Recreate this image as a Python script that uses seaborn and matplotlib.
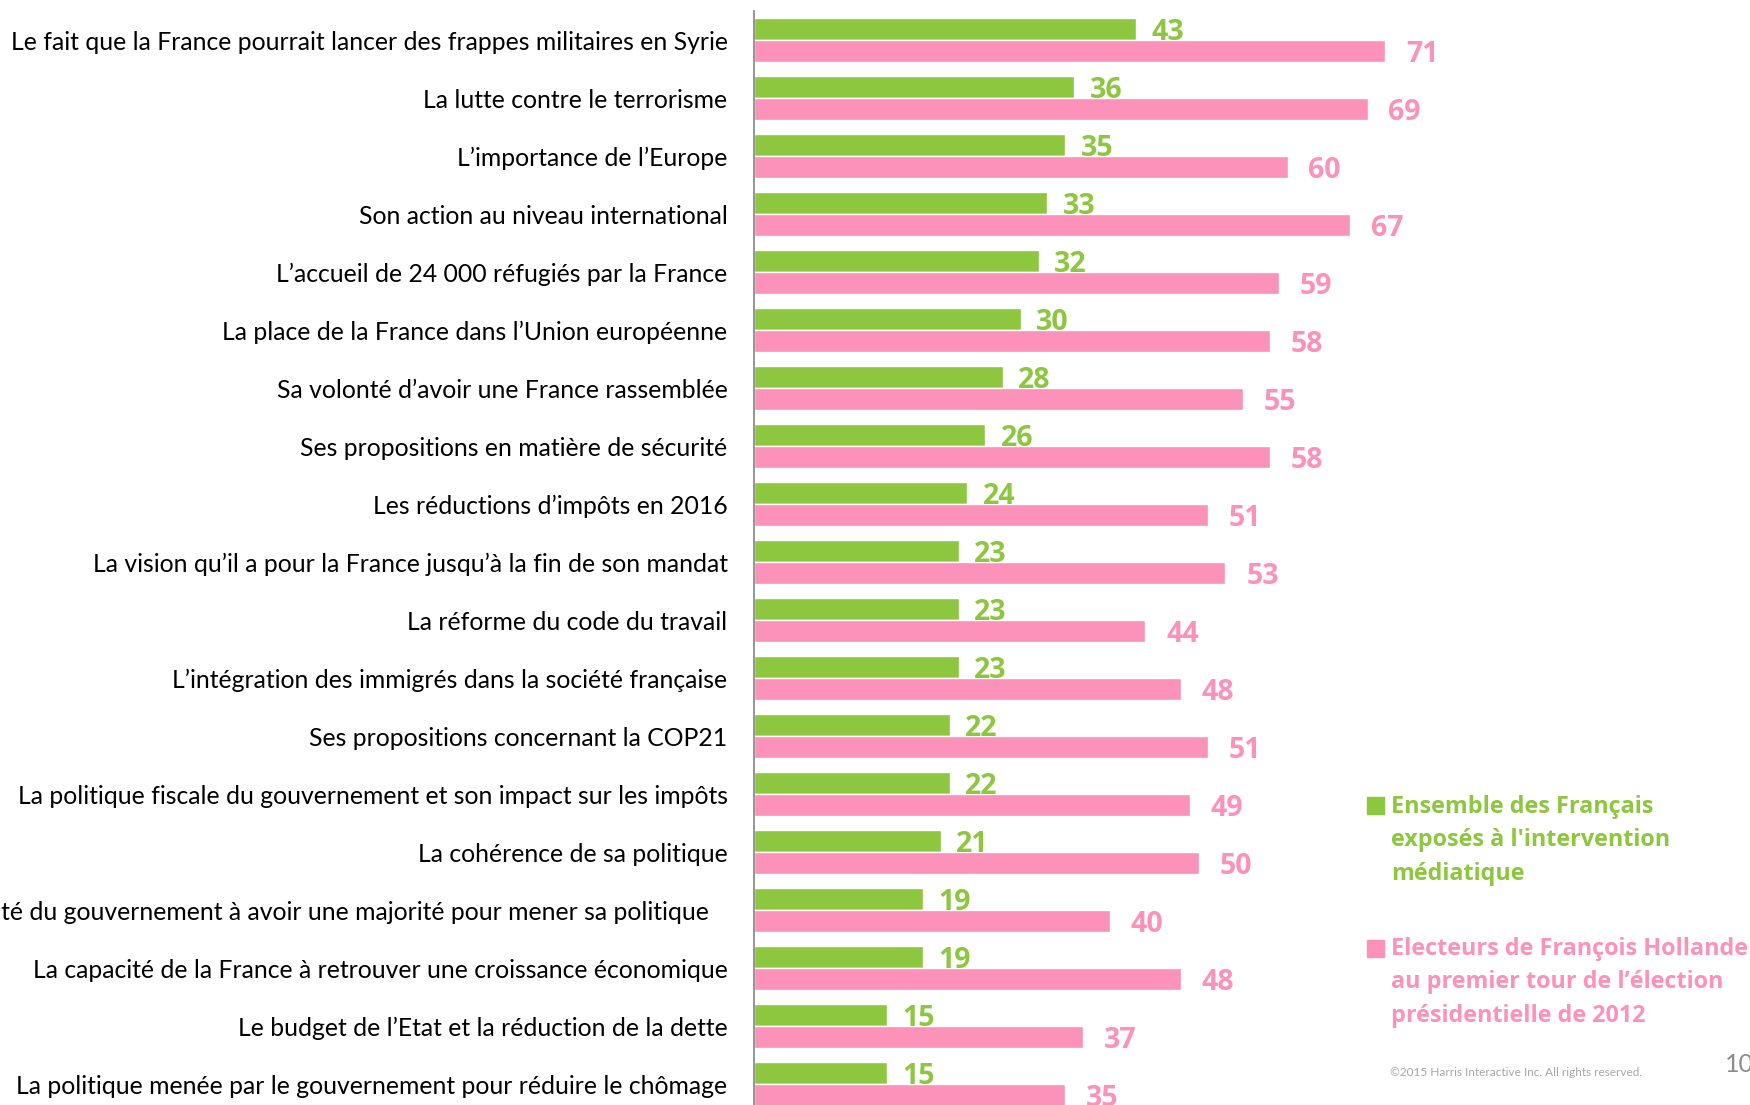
import pandas as pd
import matplotlib.pyplot as plt
import seaborn as sns
from matplotlib.patches import Rectangle

# données
items = [
    "Le fait que la France pourrait lancer des frappes militaires en Syrie",
    "La lutte contre le terrorisme",
    "L’importance de l’Europe",
    "Son action au niveau international",
    "L’accueil de 24 000 réfugiés par la France",
    "La place de la France dans l’Union européenne",
    "Sa volonté d’avoir une France rassemblée",
    "Ses propositions en matière de sécurité",
    "Les réductions d’impôts en 2016",
    "La vision qu’il a pour la France jusqu’à la fin de son mandat",
    "La réforme du code du travail",
    "L’intégration des immigrés dans la société française",
    "Ses propositions concernant la COP21",
    "La politique fiscale du gouvernement et son impact sur les impôts",
    "La cohérence de sa politique",
    "La capacité du gouvernement à avoir une majorité pour mener sa politique   ",
    "La capacité de la France à retrouver une croissance économique",
    "Le budget de l’Etat et la réduction de la dette",
    "La politique menée par le gouvernement pour réduire le chômage",
]
ensemble = [43, 36, 35, 33, 32, 30, 28, 26, 24, 23, 23, 23, 22, 22, 21, 19, 19, 15, 15]
hollande = [71, 69, 60, 67, 59, 58, 55, 58, 51, 53, 44, 48, 51, 49, 50, 40, 48, 37, 35]
series = ["Ensemble des Français exposés à l'intervention médiatique",
          "Electeurs de François Hollande au premier tour de l’élection présidentielle de 2012"]

green = "#8DC63F"
pink = "#FC91B9"

df = pd.DataFrame({
    "item": items * 2,
    "value": ensemble + hollande,
    "serie": [series[0]] * len(items) + [series[1]] * len(items),
})

sns.set_style("white")
plt.rcParams['font.family'] = ['Lato', 'DejaVu Sans']
bold_font = ['Open Sans', 'DejaVu Sans']

fig = plt.figure(figsize=(17.5, 11.05), dpi=100)
ax = fig.add_axes([754 / 1750, -8 / 1105, 996 / 1750, 1102 / 1105])

sns.barplot(data=df, x="value", y="item", hue="serie", orient="h",
            palette=[green, pink], saturation=1, width=0.76, edgecolor="white", linewidth=1,
            legend=False, ax=ax)

ax.set_xlim(0, 112)
ax.set_ylim(len(items) - 0.5, -0.5)
ax.set_xlabel("")
ax.set_ylabel("")
ax.set_xticks([])

# étiquettes des valeurs
for cont, col, pad in [(ax.containers[0], green, 11), (ax.containers[1], pink, 15)]:
    labels = ax.bar_label(cont, color=col, fontsize=20.5, fontweight="bold",
                          family=bold_font, padding=pad)
    for t in labels:
        t.set_verticalalignment("center_baseline")

# axe vertical
for s in ["top", "right", "bottom"]:
    ax.spines[s].set_visible(False)
ax.spines["left"].set_color("#8C8C8C")
ax.spines["left"].set_linewidth(1.3)
ax.tick_params(axis="y", which="major", length=0, pad=19, labelsize=17.8, labelcolor="black")
ax.set_yticks([i - 0.5 for i in range(len(items) + 1)], minor=True)
ax.tick_params(axis="y", which="minor", length=6, width=1.3, color="#8C8C8C", direction="out")

# légende
fig.add_artist(Rectangle((1367 / 1750, 1 - 814 / 1105), 17 / 1750, 17 / 1105,
                         transform=fig.transFigure, color=green))
fig.text(1391 / 1750, 1 - 795 / 1105, "Ensemble des Français\nexposés à l'intervention\nmédiatique",
         color=green, fontsize=16.8, fontweight="bold", family=bold_font,
         va="top", ha="left", linespacing=1.52)
fig.add_artist(Rectangle((1367 / 1750, 1 - 957 / 1105), 17 / 1750, 17 / 1105,
                         transform=fig.transFigure, color=pink))
fig.text(1391 / 1750, 1 - 937 / 1105, "Electeurs de François Hollande\nau premier tour de l’élection\nprésidentielle de 2012",
         color=pink, fontsize=16.8, fontweight="bold", family=bold_font,
         va="top", ha="left", linespacing=1.52)

fig.text(1390 / 1750, 1 - 1072 / 1105, "©2015 Harris Interactive Inc. All rights reserved.",
         color="#A6A6A6", fontsize=8.5, va="center", ha="left")
fig.text(1725 / 1750, 1 - 1064 / 1105, "10", color="#8C8C8C", fontsize=18, va="center", ha="left")

fig.savefig("out.png", dpi=100)
